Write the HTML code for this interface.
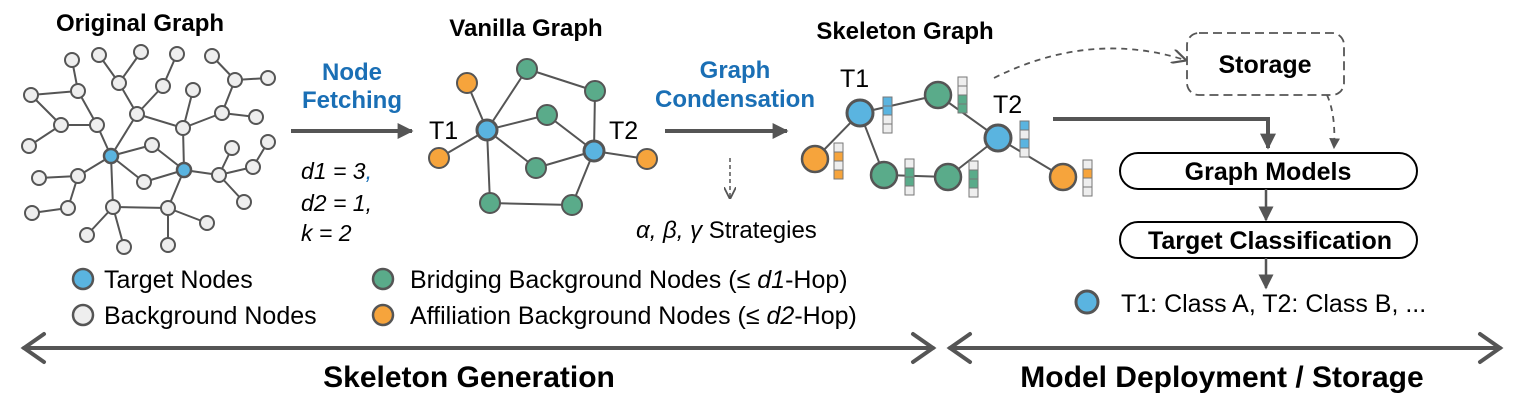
<!DOCTYPE html>
<html><head><meta charset="utf-8"><style>
html,body{margin:0;padding:0;background:#fff}
svg{display:block}
text{font-family:"Liberation Sans",Arial,sans-serif}
</style></head><body>
<svg width="1526" height="400" viewBox="0 0 1526 400" xmlns="http://www.w3.org/2000/svg">
<defs>
<marker id="ah" viewBox="0 0 10 10" refX="9" refY="5" markerWidth="6" markerHeight="6" orient="auto"><path d="M0,0 L10,5 L0,10 z" fill="#555"/></marker>
<marker id="ah2" viewBox="0 0 10 10" refX="9" refY="5" markerWidth="4" markerHeight="4" orient="auto"><path d="M0,0 L10,5 L0,10 z" fill="#555"/></marker>
<marker id="oa" viewBox="0 0 10 10" refX="9" refY="5" markerWidth="8" markerHeight="8" orient="auto"><path d="M0,0 L10,5 L0,10" fill="none" stroke="#555" stroke-width="1.5"/></marker>
</defs>
<g font-weight="bold" font-size="24" text-anchor="middle" fill="#000">
<text x="140" y="31">Original Graph</text>
<text x="526" y="36">Vanilla Graph</text>
<text x="905" y="39">Skeleton Graph</text>
</g>
<g stroke="#555" stroke-width="2" fill="none">
<path d="M72,60L78,91 M31,95L78,91 M31,95L61,125 M61,125L97,125 M61,125L29,146 M78,91L97,125 M97,125L111,156
M99,55L119,83 M141,52L119,83 M119,83L137,114 M137,114L111,156 M177,54L163,86 M163,86L137,114 M137,114L183,128
M193,90L183,129 M183,128L222,113 M222,113L235,80 M235,80L212,56 M235,80L268,78 M222,113L256,117 M183,128L184,170
M111,156L152,145 M152,145L184,170 M111,156L144,182 M144,182L184,170 M111,156L78,176 M78,176L39,178 M78,176L68,208 M68,208L32,213
M111,156L113,207 M113,207L168,208 M113,207L87,235 M113,207L124,247 M168,208L184,170 M168,208L207,223 M168,208L168,245
M184,170L219,175 M219,175L253,167 M253,167L268,142 M219,175L232,148 M219,175L244,202"/>
</g>
<g fill="#eee" stroke="#555" stroke-width="2">
<circle cx="72" cy="60" r="7"/><circle cx="99" cy="55" r="7"/><circle cx="141" cy="52" r="7"/><circle cx="177" cy="54" r="7"/><circle cx="212" cy="56" r="7"/>
<circle cx="78" cy="91" r="7"/><circle cx="119" cy="83" r="7"/><circle cx="163" cy="86" r="7"/><circle cx="235" cy="80" r="7"/><circle cx="268" cy="78" r="7"/><circle cx="193" cy="90" r="7"/>
<circle cx="31" cy="95" r="7"/><circle cx="61" cy="125" r="7"/><circle cx="97" cy="125" r="7"/><circle cx="137" cy="114" r="7"/><circle cx="183" cy="128" r="7"/><circle cx="222" cy="113" r="7"/><circle cx="256" cy="117" r="7"/>
<circle cx="29" cy="146" r="7"/><circle cx="152" cy="145" r="7"/><circle cx="268" cy="142" r="7"/><circle cx="232" cy="148" r="7"/>
<circle cx="39" cy="178" r="7"/><circle cx="78" cy="176" r="7"/><circle cx="144" cy="182" r="7"/><circle cx="219" cy="175" r="7"/><circle cx="253" cy="167" r="7"/>
<circle cx="32" cy="213" r="7"/><circle cx="68" cy="208" r="7"/><circle cx="113" cy="207" r="7"/><circle cx="168" cy="208" r="7"/><circle cx="207" cy="223" r="7"/><circle cx="244" cy="202" r="7"/>
<circle cx="87" cy="235" r="7"/><circle cx="124" cy="247" r="7"/><circle cx="168" cy="245" r="7"/>
</g>
<g fill="#5ab4e0" stroke="#555" stroke-width="2.5"><circle cx="111" cy="156" r="7"/><circle cx="184" cy="170" r="7"/></g>

<line x1="291" y1="131" x2="412" y2="131" stroke="#555" stroke-width="4" marker-end="url(#ah2)"/>
<g font-weight="bold" font-size="24" fill="#1a6fb5" text-anchor="middle">
<text x="352" y="80">Node</text><text x="352" y="108">Fetching</text>
<text x="735" y="78">Graph</text><text x="735" y="107">Condensation</text>
</g>
<g font-style="italic" font-size="23" fill="#000">
<text x="301" y="179">d1 = 3<tspan fill="#1a6fb5">,</tspan></text>
<text x="301" y="211">d2 = 1,</text>
<text x="301" y="241">k = 2</text>
</g>

<g stroke="#555" stroke-width="2">
<path d="M487,130L467,83 M487,130L439,158 M487,130L527,69 M527,69L595,91 M595,91L594,151 M487,130L547,115 M547,115L594,151 M487,130L536,168 M536,168L594,151 M487,130L490,203 M490,203L572,205 M572,205L594,151 M594,151L647,159"/>
</g>
<g stroke="#555" stroke-width="2">
<g fill="#f6a43c"><circle cx="467" cy="83" r="10"/><circle cx="439" cy="158" r="10"/><circle cx="647" cy="159" r="10"/></g>
<g fill="#5aab8a"><circle cx="527" cy="69" r="10"/><circle cx="595" cy="91" r="10"/><circle cx="547" cy="115" r="10"/><circle cx="536" cy="168" r="10"/><circle cx="490" cy="203" r="10"/><circle cx="572" cy="205" r="10"/></g>
<g fill="#5ab4e0" stroke-width="3"><circle cx="487" cy="130" r="10"/><circle cx="594" cy="151" r="10"/></g>
</g>
<g font-size="25" fill="#000"><text x="429" y="139">T1</text><text x="609" y="139">T2</text>
<text x="840" y="87">T1</text><text x="993" y="113">T2</text></g>

<line x1="665" y1="131" x2="787" y2="131" stroke="#555" stroke-width="4" marker-end="url(#ah2)"/>
<line x1="730" y1="158" x2="730" y2="198" stroke="#555" stroke-width="1.5" stroke-dasharray="4,3" marker-end="url(#oa)"/>
<text x="636" y="238" font-size="24" fill="#000"><tspan font-style="italic">α, β, γ</tspan> Strategies</text>

<g stroke="#555" stroke-width="2">
<path d="M860,113L938,95 M938,95L998,138 M860,113L815,159 M860,113L884,175 M884,175L948,177 M948,177L998,138 M998,138L1063,177"/>
</g>
<g stroke="#555" stroke-width="2.5">
<circle cx="815" cy="159" r="13" fill="#f6a43c"/><circle cx="1063" cy="177" r="13" fill="#f6a43c"/>
<circle cx="938" cy="95" r="13" fill="#5aab8a"/><circle cx="884" cy="175" r="13" fill="#5aab8a"/><circle cx="948" cy="177" r="13" fill="#5aab8a"/>
<circle cx="860" cy="113" r="13" fill="#5ab4e0" stroke-width="3"/><circle cx="998" cy="138" r="13" fill="#5ab4e0" stroke-width="3"/>
</g>
<g stroke="#777" stroke-width="1">
<rect x="883" y="97" width="9" height="9" fill="#5ab4e0"/><rect x="883" y="106" width="9" height="9" fill="#5ab4e0"/><rect x="883" y="115" width="9" height="9" fill="#eee"/><rect x="883" y="124" width="9" height="9" fill="#eee"/>
<rect x="958" y="77" width="9" height="9" fill="#eee"/><rect x="958" y="86" width="9" height="9" fill="#eee"/><rect x="958" y="95" width="9" height="9" fill="#5aab8a"/><rect x="958" y="104" width="9" height="9" fill="#5aab8a"/>
<rect x="1020" y="121" width="9" height="9" fill="#5ab4e0"/><rect x="1020" y="130" width="9" height="9" fill="#eee"/><rect x="1020" y="139" width="9" height="9" fill="#5ab4e0"/><rect x="1020" y="148" width="9" height="9" fill="#eee"/>
<rect x="834" y="143" width="9" height="9" fill="#eee"/><rect x="834" y="152" width="9" height="9" fill="#f6a43c"/><rect x="834" y="161" width="9" height="9" fill="#eee"/><rect x="834" y="170" width="9" height="9" fill="#f6a43c"/>
<rect x="905" y="159" width="9" height="9" fill="#eee"/><rect x="905" y="168" width="9" height="9" fill="#5aab8a"/><rect x="905" y="177" width="9" height="9" fill="#5aab8a"/><rect x="905" y="186" width="9" height="9" fill="#eee"/>
<rect x="969" y="161" width="9" height="9" fill="#eee"/><rect x="969" y="170" width="9" height="9" fill="#5aab8a"/><rect x="969" y="179" width="9" height="9" fill="#5aab8a"/><rect x="969" y="188" width="9" height="9" fill="#eee"/>
<rect x="1083" y="160" width="9" height="9" fill="#eee"/><rect x="1083" y="169" width="9" height="9" fill="#f6a43c"/><rect x="1083" y="178" width="9" height="9" fill="#eee"/><rect x="1083" y="187" width="9" height="9" fill="#eee"/>
</g>

<path d="M994,78 Q1090,30 1185,60" fill="none" stroke="#555" stroke-width="1.8" stroke-dasharray="6,5" marker-end="url(#oa)"/>
<rect x="1187" y="33" width="157" height="62" rx="12" fill="#fff" stroke="#555" stroke-width="1.8" stroke-dasharray="9,5"/>
<text x="1265" y="73" font-size="25" font-weight="bold" text-anchor="middle">Storage</text>
<path d="M1327,95 Q1336,115 1334,148" fill="none" stroke="#555" stroke-width="1.8" stroke-dasharray="6,5" marker-end="url(#ah)"/>
<path d="M1053,119 L1268,119 L1268,148" fill="none" stroke="#555" stroke-width="4" marker-end="url(#ah2)"/>
<rect x="1120" y="153" width="297" height="36" rx="18" fill="#fff" stroke="#000" stroke-width="2"/>
<text x="1268" y="180" font-size="25" font-weight="bold" text-anchor="middle">Graph Models</text>
<line x1="1266" y1="189" x2="1266" y2="220" stroke="#555" stroke-width="2.5" marker-end="url(#ah)"/>
<rect x="1120" y="222" width="297" height="36" rx="18" fill="#fff" stroke="#000" stroke-width="2"/>
<text x="1270" y="249" font-size="25" font-weight="bold" text-anchor="middle">Target Classification</text>
<line x1="1266" y1="258" x2="1266" y2="288" stroke="#555" stroke-width="2.5" marker-end="url(#ah)"/>
<circle cx="1087" cy="302" r="11" fill="#5ab4e0" stroke="#555" stroke-width="3"/>
<text x="1121" y="312" font-size="25">T1: Class A, T2: Class B, ...</text>

<g stroke="#555" stroke-width="2.5">
<circle cx="83" cy="279" r="10" fill="#5ab4e0"/><circle cx="83" cy="315" r="10" fill="#eee"/>
<circle cx="383" cy="279" r="10" fill="#5aab8a"/><circle cx="383" cy="315" r="10" fill="#f6a43c"/>
</g>
<g font-size="25" fill="#000">
<text x="104" y="288">Target Nodes</text>
<text x="104" y="324">Background Nodes</text>
<text x="410" y="288">Bridging Background Nodes (≤ <tspan font-style="italic">d1</tspan>-Hop)</text>
<text x="410" y="324">Affiliation Background Nodes (≤ <tspan font-style="italic">d2</tspan>-Hop)</text>
</g>

<g stroke="#555" stroke-width="4" fill="none" stroke-linecap="round">
<line x1="24" y1="348" x2="933" y2="348"/><path d="M44,334 L24,348 L44,362"/><path d="M913,334 L933,348 L913,362"/>
<line x1="950" y1="348" x2="1500" y2="348"/><path d="M970,334 L950,348 L970,362"/><path d="M1480,334 L1500,348 L1480,362"/>
</g>
<g font-size="30" font-weight="bold" text-anchor="middle">
<text x="469" y="387">Skeleton Generation</text>
<text x="1222" y="387">Model Deployment / Storage</text>
</g>
</svg>
</body></html>
